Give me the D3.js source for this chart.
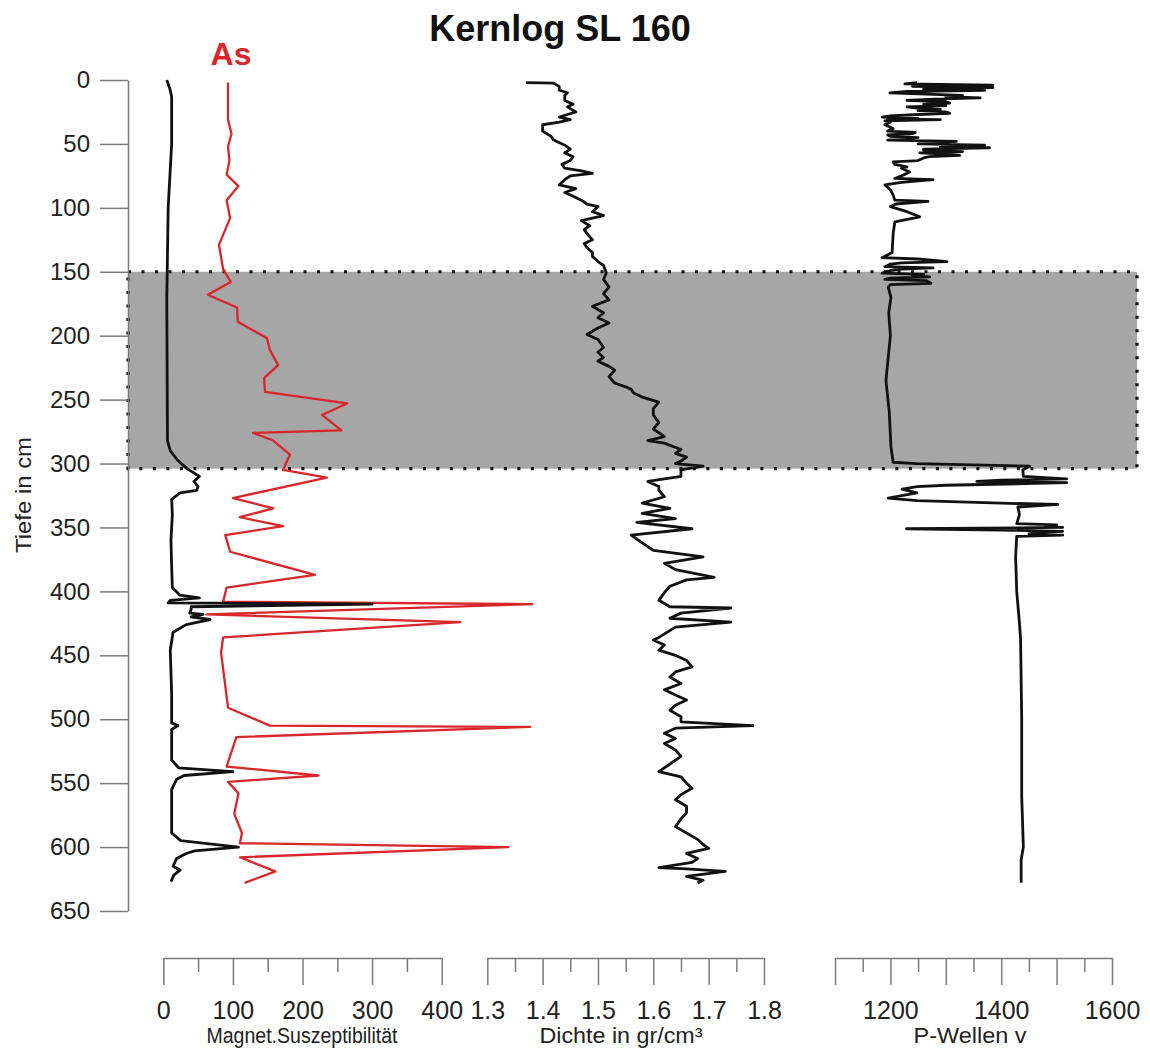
<!DOCTYPE html>
<html>
<head>
<meta charset="utf-8">
<script src="https://cdn.jsdelivr.net/npm/d3@7"></script>
<style>
    body { margin: 0; background: #fff; }
    svg { display: block; font-family: "Liberation Sans", Arial, sans-serif; }
</style>
</head>
<body>
<div id="chart"></div>
<script>
// depth (cm) / value pairs
const magSus = [
    [0, 5], [6, 9], [13, 12], [50, 12], [80, 9], [100, 7], [172, 5], [282, 6], [290, 10], [297, 20],
    [304, 34], [310, 52], [314, 44], [318, 50], [321, 48], [323, 24], [328, 12], [340, 13], [360, 11],
    [380, 12], [397, 13], [403, 24], [405, 52], [407, 10], [409, 7], [410, 300], [412, 40], [414, 40],
    [417, 38], [418, 57], [420, 40], [422, 67], [426, 33], [432, 14], [446, 10], [480, 12], [503, 12],
    [505, 21], [508, 12], [532, 12], [538, 22], [541, 100], [544, 30], [547, 19], [555, 12], [589, 12],
    [595, 25], [600, 108], [603, 45], [605, 33], [609, 19], [615, 14], [618, 24], [622, 15], [627, 11]
];

const arsenic = [
    [2, 93], [31, 93], [42, 98], [52, 93], [63, 95], [74, 91], [83, 108], [94, 91], [108, 96], [129, 80],
    [148, 86], [158, 97], [168, 64], [178, 106], [189, 107], [202, 149], [211, 153], [223, 165], [233, 145],
    [244, 146], [253, 264], [262, 228], [274, 256], [276, 129], [282, 158], [293, 182], [305, 172], [311, 235],
    [327, 100], [335, 158], [342, 110], [349, 172], [356, 89], [369, 96], [387, 218], [397, 91], [408, 86],
    [410, 530], [418, 62], [424, 427], [436, 86], [448, 83], [491, 93], [505, 153], [506, 527], [514, 105],
    [537, 91], [544, 223], [549, 93], [558, 108], [574, 102], [589, 113], [597, 110], [600, 496], [608, 110],
    [619, 161], [628, 117]
];

const density = [
    [2, 1.37], [2.5, 1.42], [5, 1.43], [8, 1.43], [10, 1.445], [12, 1.44], [16, 1.44], [19, 1.455], [21, 1.445],
    [25, 1.46], [27, 1.445], [29, 1.43], [31, 1.45], [33, 1.43], [35, 1.40], [40, 1.40], [44, 1.415], [47, 1.42],
    [51, 1.44], [54, 1.45], [57, 1.44], [60, 1.455], [63, 1.45], [66, 1.435], [69, 1.44], [71, 1.47], [73, 1.49],
    [75, 1.45], [78, 1.44], [82, 1.43], [85, 1.46], [88, 1.44], [91, 1.455], [94, 1.47], [97, 1.48], [99, 1.50],
    [103, 1.49], [106, 1.51], [110, 1.47], [114, 1.485], [117, 1.475], [120, 1.48], [125, 1.49], [128, 1.475],
    [131, 1.48], [135, 1.49], [138, 1.49], [142, 1.50], [145, 1.51], [151, 1.515], [156, 1.51], [162, 1.52],
    [167, 1.51], [172, 1.52], [177, 1.49], [182, 1.51], [186, 1.50], [190, 1.52], [194, 1.50], [199, 1.48],
    [203, 1.50], [209, 1.51], [213, 1.50], [217, 1.51], [220, 1.50], [224, 1.52], [227, 1.53], [232, 1.52],
    [237, 1.53], [240, 1.55], [242, 1.56], [245, 1.565], [248, 1.58], [252, 1.61], [257, 1.60], [262, 1.60],
    [268, 1.61], [273, 1.60], [279, 1.62], [282, 1.59], [284, 1.62], [289, 1.65], [292, 1.64], [295, 1.66],
    [298, 1.65], [300, 1.64], [302, 1.69], [305, 1.65], [310, 1.65], [314, 1.59], [318, 1.61], [321, 1.61],
    [326, 1.62], [331, 1.58], [335, 1.63], [339, 1.58], [343, 1.64], [346, 1.57], [351, 1.67], [356, 1.56],
    [362, 1.58], [368, 1.60], [373, 1.69], [378, 1.62], [383, 1.64], [389, 1.71], [391, 1.66], [396, 1.63],
    [401, 1.62], [407, 1.61], [412, 1.63], [413, 1.74], [417, 1.65], [421, 1.63], [424, 1.74], [428, 1.64],
    [436, 1.61], [438, 1.60], [442, 1.62], [446, 1.61], [450, 1.64], [454, 1.66], [459, 1.67], [463, 1.64],
    [467, 1.63], [472, 1.65], [477, 1.62], [481, 1.64], [485, 1.66], [489, 1.64], [493, 1.63], [498, 1.65],
    [502, 1.65], [505, 1.78], [507, 1.64], [511, 1.62], [515, 1.64], [519, 1.62], [524, 1.64], [529, 1.65],
    [535, 1.63], [541, 1.61], [545, 1.65], [550, 1.66], [554, 1.67], [559, 1.65], [563, 1.64], [568, 1.66],
    [573, 1.66], [578, 1.65], [584, 1.64], [589, 1.66], [594, 1.68], [598, 1.69], [601, 1.70], [605, 1.66],
    [609, 1.68], [612, 1.67], [616, 1.61], [617, 1.66], [619, 1.73], [623, 1.66], [626, 1.69], [628, 1.68]
];

const pWave = [
    [2, 1248], [3, 1226], [4, 1385], [5, 1240], [6, 1385], [7, 1260], [8, 1370], [9, 1230], [10, 1199],
    [12, 1330], [13, 1300], [14, 1362], [15, 1280], [16, 1230], [17, 1300], [18, 1307], [19, 1260],
    [20, 1300], [21, 1230], [22, 1248], [23, 1290], [24, 1250], [25, 1300], [26, 1307], [27, 1250], [28, 1200],
    [29, 1185], [30, 1250], [30.5, 1195], [31, 1290], [32, 1190], [33, 1200], [35, 1190], [38, 1205], [40, 1195],
    [41, 1245], [42, 1240], [43, 1195], [44, 1200], [45, 1250], [47, 1195], [48, 1319], [49, 1280], [50, 1250],
    [51, 1370], [52, 1290], [53, 1379], [54, 1260], [55, 1260], [56, 1330], [57, 1253], [58, 1300], [59, 1325],
    [60, 1270], [61, 1260], [63, 1250], [64, 1205], [66, 1208], [68, 1230], [69, 1220], [72, 1235], [75, 1220],
    [77, 1208], [78, 1277], [80, 1220], [82, 1190], [86, 1200], [90, 1205], [94, 1208], [95, 1268], [97, 1210],
    [99, 1200], [103, 1230], [107, 1253], [111, 1208], [120, 1205], [135, 1203], [139, 1185], [140, 1250],
    [142, 1302], [143, 1220], [144, 1200], [146, 1190], [147, 1277], [148, 1220], [149, 1200], [151, 1185],
    [152, 1260], [153, 1240], [154, 1271], [155, 1200], [156, 1190], [157, 1265], [159, 1273], [160, 1200],
    [162, 1196], [170, 1201], [182, 1197], [200, 1200], [235, 1192], [260, 1198], [287, 1201], [299, 1205],
    [300, 1248], [302, 1451], [305, 1439], [310, 1440], [311, 1480], [312, 1518], [313, 1400], [314, 1356],
    [315, 1518], [317, 1300], [318, 1248], [320, 1221], [323, 1248], [327, 1196], [329, 1248], [331, 1400],
    [332, 1502], [334, 1430], [340, 1433], [347, 1428], [348, 1500], [349, 1480], [350, 1511], [351, 1229],
    [352, 1400], [353, 1511], [354, 1470], [355, 1450], [356, 1511], [357, 1428], [373, 1426], [400, 1428],
    [425, 1433], [438, 1435], [500, 1437], [560, 1437], [600, 1440], [610, 1436], [628, 1436]
];

const depthTicks = d3.range(0, 651, 50);
const magTicks = [0, 100, 200, 300, 400];
const densTicks = [1.3, 1.4, 1.5, 1.6, 1.7, 1.8];
const pTicks = [1100, 1200, 1300, 1400, 1500, 1600];
const pLabels = [1200, 1400, 1600];
const zone = [150, 304]; // shaded interval in cm

const width = 1150, height = 1053;

const svg = d3
    .select('#chart')
    .append('svg')
    .attr('width', width)
    .attr('height', height);

// scales
const yScale = d3.scaleLinear().domain([0, 650]).range([80, 911]);
const xMag = d3.scaleLinear().domain([0, 400]).range([163.3, 441.7]);
const xDens = d3.scaleLinear().domain([1.3, 1.8]).range([487.3, 764]);
const xP = d3.scaleLinear().domain([1100, 1600]).range([835, 1112]);

// shaded zone
svg.append('rect')
    .attr('x', 128)
    .attr('y', yScale(zone[0]))
    .attr('width', 1137 - 128)
    .attr('height', yScale(zone[1]) - yScale(zone[0]))
    .attr('fill', '#a6a6a6')
    .attr('stroke', '#111')
    .attr('stroke-width', 3.2)
    .attr('stroke-dasharray', '3 10.5');

// depth axis
const yAxis = svg.append('g')
    .attr('transform', 'translate(128, 0)')
    .call(d3.axisLeft(yScale).tickValues(depthTicks).tickSize(28).tickSizeOuter(0).tickPadding(10));
yAxis.select('.domain').attr('stroke', '#8a8a8a').attr('stroke-width', 1.5);
yAxis.selectAll('.tick line').attr('stroke', '#8a8a8a').attr('stroke-width', 1.5);
yAxis.selectAll('.tick text')
    .attr('fill', '#222')
    .style('font-size', '24px');

svg.append('text')
    .attr('transform', 'translate(31, 495) rotate(-90)')
    .attr('text-anchor', 'middle')
    .attr('fill', '#222')
    .style('font-size', '22px')
    .attr('textLength', 116)
    .attr('lengthAdjust', 'spacingAndGlyphs')
    .text('Tiefe in cm');

// bottom axes, major + minor ticks
const bottomAxis = (scale, majors, fmt, label, labelX, labelW) => {
    const minors = d3.pairs(majors).map(p => (p[0] + p[1]) / 2);
    const gMinor = svg.append('g')
        .attr('transform', 'translate(0, 958)')
        .call(d3.axisBottom(scale).tickValues(minors).tickSize(14).tickSizeOuter(0).tickFormat(''));
    gMinor.select('.domain').remove();

    const g = svg.append('g')
        .attr('transform', 'translate(0, 958)')
        .call(d3.axisBottom(scale).tickValues(majors).tickSize(27).tickSizeOuter(0).tickPadding(16).tickFormat(fmt));
    svg.selectAll('.domain, .tick line').attr('stroke', '#7a7a7a').attr('stroke-width', 1.5);
    g.selectAll('.tick text').attr('fill', '#222').style('font-size', '25px');

    svg.append('text')
        .attr('x', labelX)
        .attr('y', 1043)
        .attr('text-anchor', 'middle')
        .attr('fill', '#222')
        .style('font-size', '22px')
        .attr('textLength', labelW)
        .attr('lengthAdjust', 'spacingAndGlyphs')
        .text(label);
    return g;
};

bottomAxis(xMag, magTicks, d3.format('d'), 'Magnet.Suszeptibilität', 302, 191);
bottomAxis(xDens, densTicks, d3.format('.1f'), 'Dichte in gr/cm³', 621, 163);
bottomAxis(xP, pTicks, d => pLabels.includes(d) ? d : '', 'P-Wellen v', 970, 113);

// curves
const curve = (data, x, color, w) => {
    const line = d3.line()
        .x(d => x(d[1]))
        .y(d => yScale(d[0]));
    svg.append('path')
        .datum(data)
        .attr('d', line)
        .attr('fill', 'none')
        .attr('stroke', color)
        .attr('stroke-width', w)
        .attr('stroke-linejoin', 'round');
};

curve(arsenic, xMag, '#d8262b', 2.3);
curve(magSus, xMag, '#111', 2.8);
curve(density, xDens, '#111', 2.8);
curve(pWave, xP, '#111', 2.8);

// titles
svg.append('text')
    .attr('x', 560)
    .attr('y', 41)
    .attr('text-anchor', 'middle')
    .attr('fill', '#111')
    .style('font-size', '36px')
    .style('font-weight', 'bold')
    .text('Kernlog SL 160');

svg.append('text')
    .attr('x', 231)
    .attr('y', 65)
    .attr('text-anchor', 'middle')
    .attr('fill', '#d8262b')
    .style('font-size', '32px')
    .style('font-weight', 'bold')
    .text('As');
</script>
</body>
</html>
